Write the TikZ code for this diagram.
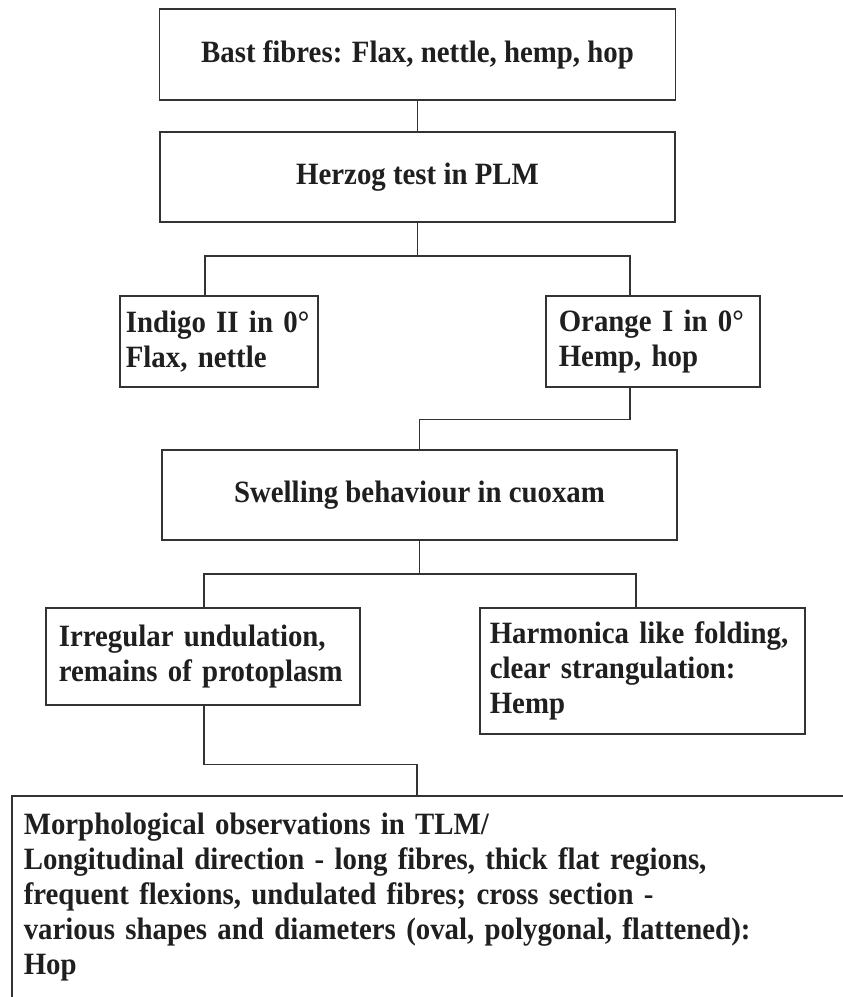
\documentclass[tikz,border=0pt]{standalone}
\usepackage{fontspec}
\setmainfont{Liberation Serif}
\newfontfamily\chartfont{Liberation Serif}[FakeStretch=0.93]

\begin{document}
\begin{tikzpicture}[x=1pt,y=1pt,
	box/.style={draw=black!80,line width=1.6pt,font=\chartfont\bfseries\fontsize{31}{35}\selectfont,text=black!88,inner sep=0pt},
	lbox/.style={box,anchor=north west,align=left},
	line/.style={draw=black!80,line width=1.6pt}]
					\useasboundingbox (0,0) rectangle (843,-997);
					
					\node[box,minimum width=516pt,minimum height=91pt] (bast) at (417.5,-54.5) {Bast fibres: Flax, nettle, hemp, hop};
					\node[box,minimum width=515pt,minimum height=90pt] (herzog) at (417.5,-177) {Herzog test in PLM};
					
					\node[lbox,text width=186pt,inner xsep=6pt,minimum height=91pt] (indigo) at (119,-295) {Indigo II in 0°\\Flax, nettle};
					\node[lbox,text width=188pt,inner xsep=13pt,minimum height=91pt] (orange) at (545,-295) {Orange I in 0°\\Hemp, hop};
					
					\node[box,minimum width=515pt,minimum height=90pt] (swell) at (419.5,-495) {Swelling behaviour in cuoxam};
					
					\node[lbox,text width=288pt,inner xsep=13pt,minimum height=97pt] (irreg) at (45,-607) {Irregular undulation,\\remains of protoplasm};
					\node[lbox,text width=305pt,inner xsep=10pt,minimum height=126pt] (harmon) at (479,-607) {Harmonica like folding,\\clear strangulation:\\Hemp};
					
					\node[lbox,draw=none,text width=808pt,inner xsep=11pt,inner ysep=16pt] (morph) at (12,-796) {Morphological observations in TLM/\\Longitudinal direction - long fibres, thick flat regions,\\frequent flexions, undulated fibres; cross section -\\various shapes and diameters (oval, polygonal, flattened):\\Hop};
					\draw[line] ([yshift=-230pt]morph.north west) -- (morph.north west) -- (morph.north east) -- ([yshift=-230pt]morph.north east);
					
					\draw[line] (bast) -- (herzog);
					\draw[line] (herzog.south) -- ++(0,-33) -| ([xshift=86pt]indigo.north west);
					\draw[line] (herzog.south) -- ++(0,-33) -| ([xshift=85pt]orange.north west);
					\draw[line] ([xshift=85pt]orange.south west) -- ++(0,-32) -| (swell.north);
					\draw[line] (swell.south) -- ++(0,-33) -| ([xshift=159pt]irreg.north west);
					\draw[line] (swell.south) -- ++(0,-33) -| ([xshift=157pt]harmon.north west);
					\draw[line] ([xshift=159pt]irreg.south west) -- ++(0,-59) -| ([xshift=405pt]morph.north west);
				\end{tikzpicture}
\end{document}
